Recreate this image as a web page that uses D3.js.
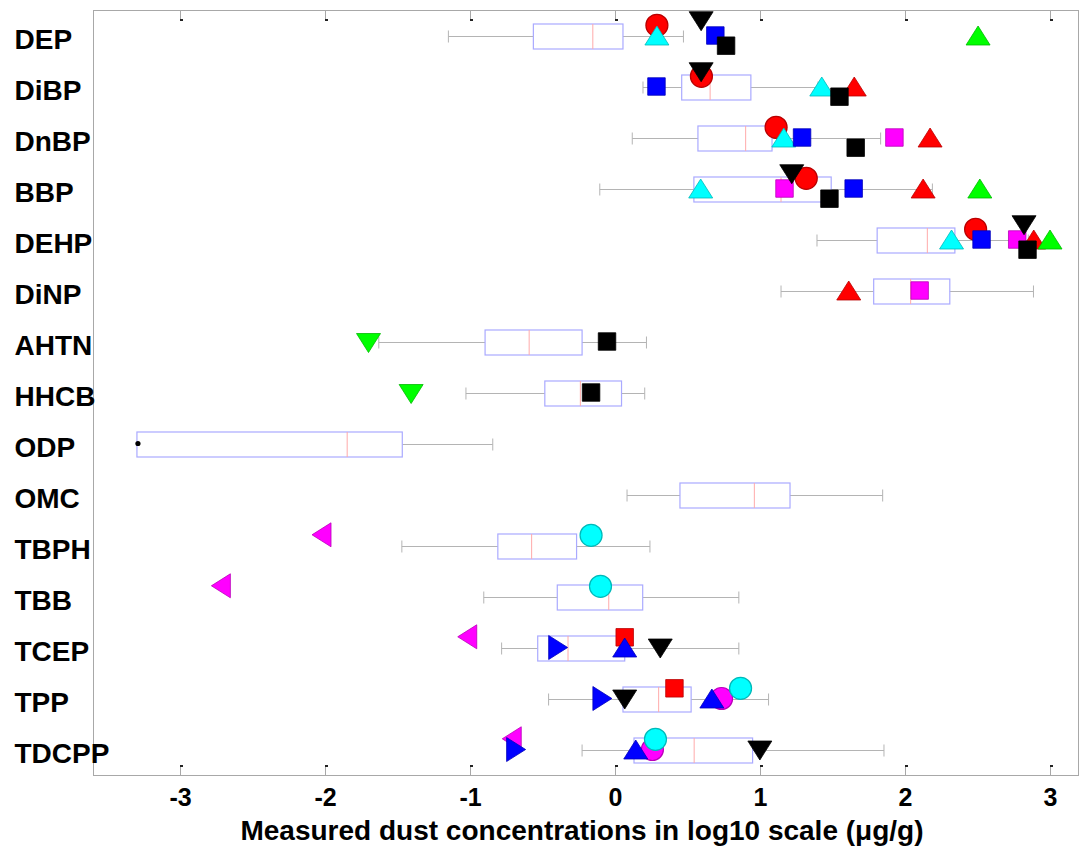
<!DOCTYPE html>
<html>
<head>
<meta charset="utf-8">
<script src="https://cdn.jsdelivr.net/npm/d3@7"></script>
<style>
  html, body { margin: 0; padding: 0; background: #ffffff; }
  svg { display: block; }
</style>
</head>
<body>
<div id="chart"></div>
<script>
// Compound rows, top to bottom
const categories = ['DEP', 'DiBP', 'DnBP', 'BBP', 'DEHP', 'DiNP', 'AHTN', 'HHCB',
  'ODP', 'OMC', 'TBPH', 'TBB', 'TCEP', 'TPP', 'TDCPP'];

// Box plot statistics (log10 ug/g), one value per row
const whiskerLow = [-1.149, 0.193, 0.119, -0.105, 1.393, 1.145, -1.629, -1.028,
  -3.297, 0.083, -1.470, -0.905, -0.782, -0.458, -0.227];
const quartile1 = [-0.563, 0.460, 0.572, 0.544, 1.808, 1.784, -0.896, -0.484,
  -3.297, 0.448, -0.808, -0.398, -0.533, 0.055, 0.131];
const medians = [-0.153, 0.656, 0.901, 1.145, 2.154, 2.039, -0.592, -0.239,
  -1.847, 0.961, -0.575, -0.043, -0.324, 0.301, 0.546];
const quartile3 = [0.055, 0.937, 1.083, 1.491, 2.344, 2.309, -0.227, 0.045,
  -1.467, 1.207, -0.265, 0.191, 0.067, 0.525, 0.949];
const whiskerHigh = [0.472, 1.40, 1.832, 2.189, 2.85, 2.886, 0.217, 0.205,
  -0.843, 1.846, 0.241, 0.854, 0.854, 1.059, 1.855];
const outliers = [['ODP', -3.29]];

// Values reported by other studies
const redCircle = [['DEP', 0.289], ['DiBP', 0.596], ['DnBP', 1.111], ['BBP', 1.319], ['DEHP', 2.487]];
const cyanTriUp = [['DEP', 0.289], ['DiBP', 1.426], ['DnBP', 1.164], ['BBP', 0.591], ['DEHP', 2.321]];
const magentaSquare = [['DnBP', 1.927], ['BBP', 1.169], ['DEHP', 2.774], ['DiNP', 2.101]];
const redTriUp = [['DiBP', 1.650], ['DnBP', 2.173], ['BBP', 2.125], ['DEHP', 2.888], ['DiNP', 1.612]];
const greenTriUp = [['DEP', 2.504], ['BBP', 2.516], ['DEHP', 3.0]];
const blueSquare = [['DEP', 0.692], ['DiBP', 0.286], ['DnBP', 1.290], ['BBP', 1.646], ['DEHP', 2.528]];
const blackTriDownA = [['DEP', 0.594], ['DiBP', 0.594], ['BBP', 1.219], ['DEHP', 2.821]];
const blackSquareA = [['DEP', 0.766], ['DiBP', 1.548], ['DnBP', 1.660], ['BBP', 1.479], ['DEHP', 2.845]];
const blackSquareB = [['AHTN', -0.055], ['HHCB', -0.165]];
const greenTriDown = [['AHTN', -1.700], ['HHCB', -1.406]];
const magentaCircle = [['TPP', 0.735], ['TDCPP', 0.258]];
const redSquare = [['TCEP', 0.067], ['TPP', 0.410]];
const blueTriUp = [['TCEP', 0.067], ['TPP', 0.668], ['TDCPP', 0.143]];
const cyanCircle = [['TBPH', -0.165], ['TBB', -0.100], ['TPP', 0.866], ['TDCPP', 0.279]];
const blackTriDownB = [['TCEP', 0.312], ['TPP', 0.067], ['TDCPP', 0.999]];
const magentaTriLeft = [['TBPH', -2.024], ['TBB', -2.718], ['TCEP', -1.019], ['TDCPP', -0.712]];
const blueTriRight = [['TCEP', -0.392], ['TPP', -0.087], ['TDCPP', -0.682]];

const xTicks = [-3, -2, -1, 0, 1, 2, 3];
const xTitle = 'Measured dust concentrations in log10 scale (\u03bcg/g)';

(function() {
  const width = 1081;
  const height = 849;
  const plot = { left: 93, right: 1079, top: 10, bottom: 775 };

  const frameColor = '#a8a8a8';
  const fontFamily = '"Liberation Sans", Arial, Helvetica, sans-serif';

  // Drawing order matters: later series sit on top
  const series = [
    { data: redCircle, shape: 'circle', color: '#ff0000', dy: -0.2 },
    { data: cyanTriUp, shape: 'up', color: '#00ffff', dy: 0 },
    { data: magentaSquare, shape: 'square', color: '#ff00ff', dy: 0 },
    { data: redTriUp, shape: 'up', color: '#ff0000', dy: 0 },
    { data: greenTriUp, shape: 'up', color: '#00ff00', dy: 0 },
    { data: blueSquare, shape: 'square', color: '#0000ff', dy: 0 },
    { data: blackTriDownA, shape: 'down', color: '#000000', dy: -0.28 },
    { data: blackSquareA, shape: 'square', color: '#000000', dy: 0.2 },
    { data: blackSquareB, shape: 'square', color: '#000000', dy: 0 },
    { data: greenTriDown, shape: 'down', color: '#00ff00', dy: 0.03 },
    { data: magentaCircle, shape: 'circle', color: '#ff00ff', dy: 0 },
    { data: redSquare, shape: 'square', color: '#ff0000', dy: -0.2 },
    { data: blueTriUp, shape: 'up', color: '#0000ff', dy: 0 },
    { data: cyanCircle, shape: 'circle', color: '#00ffff', dy: -0.2 },
    { data: blackTriDownB, shape: 'down', color: '#000000', dy: 0.02 },
    { data: magentaTriLeft, shape: 'left', color: '#ff00ff', dy: -0.21 },
    { data: blueTriRight, shape: 'right', color: '#0000ff', dy: 0 }
  ];

  // Marker outlines, centred on the bounding box like MATLAB markers
  function markerPath(shape) {
    const tw = 12, th = 9.5;
    switch (shape) {
      case 'circle': return d3.symbol(d3.symbolCircle, Math.PI * 11 * 11)();
      case 'square': return 'M-8.75,-8.75H8.75V8.75H-8.75Z';
      case 'up': return `M0,${-th}L${tw},${th}L${-tw},${th}Z`;
      case 'down': return `M0,${th}L${tw},${-th}L${-tw},${-th}Z`;
      case 'left': return `M${-th},0L${th},${-tw}L${th},${tw}Z`;
      case 'right': return `M${th},0L${-th},${-tw}L${-th},${tw}Z`;
    }
  }

  const svg = d3.select('#chart')
    .append('svg')
    .attr('width', width)
    .attr('height', height);

  const x = d3.scaleLinear()
    .domain([-3.6, 3.2])
    .range([plot.left, plot.right]);

  const y = d3.scaleBand()
    .domain(categories)
    .range([plot.top, plot.bottom]);

  const rowY = c => y(c) + y.bandwidth() / 2;

  // Frame
  svg.append('rect')
    .attr('x', plot.left + 0.5)
    .attr('y', plot.top + 0.5)
    .attr('width', plot.right - plot.left - 1)
    .attr('height', plot.bottom - plot.top)
    .attr('fill', 'none')
    .attr('stroke', frameColor)
    .attr('stroke-width', 1);

  // Bottom axis with inward ticks
  const xAxis = d3.axisBottom(x)
    .tickValues(xTicks)
    .tickFormat(d => String(d))
    .tickSizeInner(-10)
    .tickSizeOuter(0)
    .tickPadding(13);

  const xAxisGroup = svg.append('g')
    .attr('transform', `translate(0, ${plot.bottom + 0.5})`)
    .call(xAxis);

  xAxisGroup.select('.domain').remove();
  xAxisGroup.selectAll('.tick line').attr('stroke', frameColor);
  xAxisGroup.selectAll('.tick text')
    .style('font-family', fontFamily)
    .style('font-size', '25px')
    .style('font-weight', 'bold')
    .style('fill', '#000');

  // Top axis, ticks only
  const topAxisGroup = svg.append('g')
    .attr('transform', `translate(0, ${plot.top + 0.5})`)
    .call(d3.axisTop(x).tickValues(xTicks).tickFormat('').tickSizeInner(-10).tickSizeOuter(0));

  topAxisGroup.select('.domain').remove();
  topAxisGroup.selectAll('.tick line').attr('stroke', frameColor);

  // Small dark nibs at the inner end of each tick
  svg.selectAll('.nib-bottom')
    .data(xTicks)
    .enter()
    .append('rect')
    .attr('x', d => x(d))
    .attr('y', plot.bottom - 10)
    .attr('width', 3)
    .attr('height', 2)
    .attr('fill', '#222');

  svg.selectAll('.nib-top')
    .data(xTicks)
    .enter()
    .append('rect')
    .attr('x', d => x(d))
    .attr('y', plot.top + 9)
    .attr('width', 3)
    .attr('height', 2)
    .attr('fill', '#222');

  // Row labels
  svg.selectAll('.row-label')
    .data(categories)
    .enter()
    .append('text')
    .attr('class', 'row-label')
    .attr('x', 14.5)
    .attr('y', d => rowY(d) + 13)
    .style('font-family', fontFamily)
    .style('font-size', '28px')
    .style('font-weight', 'bold')
    .style('fill', '#000')
    .text(d => d);

  // Box plots
  const boxes = categories.map((c, i) => ({
    name: c,
    lo: whiskerLow[i],
    q1: quartile1[i],
    med: medians[i],
    q3: quartile3[i],
    hi: whiskerHigh[i]
  }));

  const boxHalf = 12.5;
  const capHalf = 6;
  const whiskerColor = '#b4b4b4';

  const boxGroup = svg.append('g').attr('class', 'boxes');

  boxes.forEach(function(b) {
    const cy = Math.round(rowY(b.name)) + 0.5;

    // Whiskers
    if (b.lo < b.q1) {
      boxGroup.append('line')
        .attr('x1', x(b.lo)).attr('x2', x(b.q1))
        .attr('y1', cy).attr('y2', cy)
        .attr('stroke', whiskerColor);
      boxGroup.append('line')
        .attr('x1', x(b.lo)).attr('x2', x(b.lo))
        .attr('y1', cy - capHalf).attr('y2', cy + capHalf)
        .attr('stroke', whiskerColor);
    }
    boxGroup.append('line')
      .attr('x1', x(b.q3)).attr('x2', x(b.hi))
      .attr('y1', cy).attr('y2', cy)
      .attr('stroke', whiskerColor);
    boxGroup.append('line')
      .attr('x1', x(b.hi)).attr('x2', x(b.hi))
      .attr('y1', cy - capHalf).attr('y2', cy + capHalf)
      .attr('stroke', whiskerColor);

    // Box and median
    boxGroup.append('rect')
      .attr('x', x(b.q1))
      .attr('y', cy - boxHalf)
      .attr('width', x(b.q3) - x(b.q1))
      .attr('height', boxHalf * 2)
      .attr('fill', 'none')
      .attr('stroke', '#aaaaff')
      .attr('stroke-width', 1.2);

    boxGroup.append('line')
      .attr('x1', x(b.med)).attr('x2', x(b.med))
      .attr('y1', cy - boxHalf).attr('y2', cy + boxHalf)
      .attr('stroke', '#ffaaaa');
  });

  // Outliers
  svg.selectAll('.outlier')
    .data(outliers)
    .enter()
    .append('circle')
    .attr('cx', d => x(d[1]))
    .attr('cy', d => rowY(d[0]))
    .attr('r', 2.6)
    .attr('fill', '#000');

  // Literature markers
  series.forEach(function(s) {
    svg.append('g')
      .selectAll('path')
      .data(s.data)
      .enter()
      .append('path')
      .attr('d', markerPath(s.shape))
      .attr('transform', d =>
        `translate(${x(d[1])}, ${rowY(d[0]) + s.dy * y.bandwidth()})`)
      .attr('fill', s.color)
      .attr('stroke', d3.color(s.color).darker(0.9))
      .attr('stroke-width', s.shape === 'circle' ? 1.2 : 0.8);
  });

  // Axis title
  svg.append('text')
    .attr('x', 582)
    .attr('y', 840)
    .attr('text-anchor', 'middle')
    .style('font-family', fontFamily)
    .style('font-size', '28px')
    .style('font-weight', 'bold')
    .style('fill', '#000')
    .text(xTitle);
})();
</script>
</body>
</html>
